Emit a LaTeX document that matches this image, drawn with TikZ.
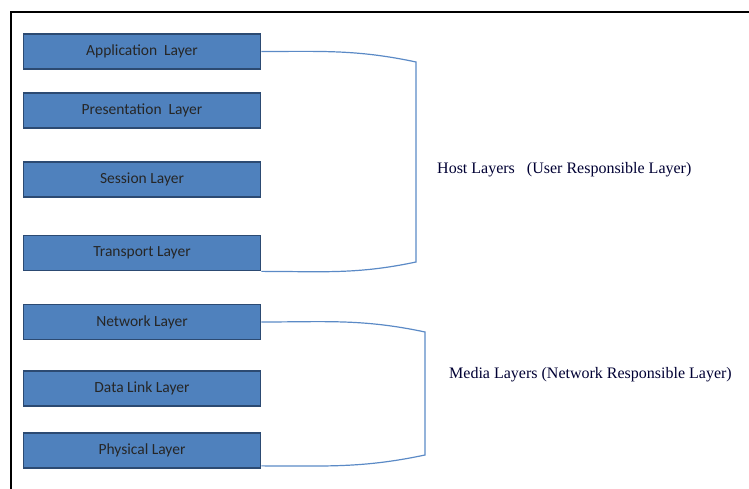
\documentclass[tikz,border=0pt]{standalone}
\usepackage{fontspec}
\setmainfont{Liberation Serif}
\newfontfamily\layerfont{Carlito}
\definecolor{boxblue}{HTML}{4F81BD}
\definecolor{boxedge}{HTML}{2C4A72}
\definecolor{bracketblue}{HTML}{5B8AC6}
\begin{document}
\begin{tikzpicture}[x=1pt,y=1pt,
        layer/.style={draw=boxedge,line width=1.8pt,fill=boxblue,minimum width=237pt,minimum height=35pt,inner sep=0pt,font=\layerfont\fontsize{15.5}{17}\selectfont,text=black!85},
        bracket/.style={draw=bracketblue,line width=1.2pt},
        side/.style={anchor=west,inner sep=0pt,font=\fontsize{16}{18}\selectfont,text=black!80!blue}]
                \useasboundingbox (0,0) rectangle (749,489);
                \draw[line width=2pt] (11,0) -- (11,477) -- (749,477);

                \node[layer] (A) at (142, 437.5) {Application\ \ Layer};
                \node[layer] (B) at (142, 378.5) {Presentation\ \ Layer};
                \node[layer] (C) at (142, 309.5) {Session Layer};
                \node[layer] (D) at (142, 236) {Transport Layer};
                \node[layer] (E) at (142, 167) {Network Layer};
                \node[layer] (F) at (142, 100.5) {Data Link Layer};
                \node[layer] (G) at (142, 38.5) {Physical Layer};

                \coordinate (W) at (416, 427);
                \coordinate (X) at (416, 227);
                \coordinate (Y) at (425, 157);
                \coordinate (Z) at (425, 34);

                \draw[bracket] (A.east) to[out=0,in=168] (W) -- (X) to[out=192,in=0] (D.south east);
                \draw[bracket] (E.east) to[out=0,in=168] (Y) -- (Z) to[out=192,in=0] ([yshift=3pt]G.south east);

                \node[side] (H) at (437, 319) {Host Layers\ \ \ (User Responsible Layer)};
                \node[side] (K) at (449, 114) {Media Layers (Network Responsible Layer)};
            \end{tikzpicture}
\end{document}
